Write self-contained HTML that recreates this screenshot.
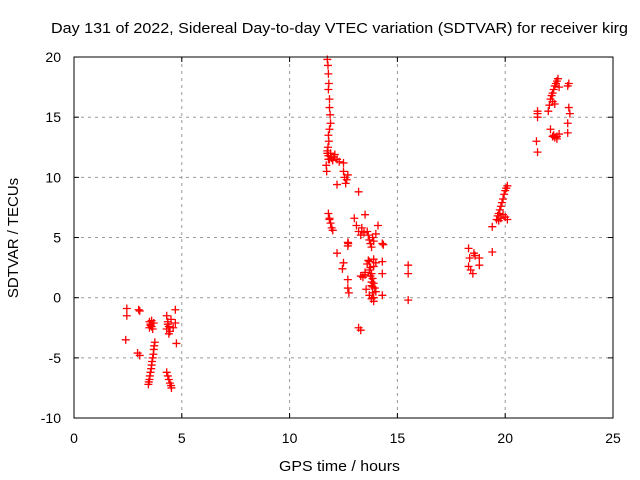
<!DOCTYPE html>
<html><head><meta charset="utf-8"><style>
body{margin:0;background:#fff;}
svg{display:block;font-family:"Liberation Sans",sans-serif;}
</style></head><body>
<svg id="chart" width="640" height="480" xmlns="http://www.w3.org/2000/svg">
<rect width="640" height="480" fill="#fff"/>
<text x="51" y="33" font-size="15" textLength="577" lengthAdjust="spacingAndGlyphs">Day 131 of 2022, Sidereal Day-to-day VTEC variation (SDTVAR) for receiver kirg</text>
<text x="279" y="471" font-size="15" textLength="121" lengthAdjust="spacingAndGlyphs">GPS time / hours</text>
<text transform="translate(18,238) rotate(-90)" font-size="15" text-anchor="middle">SDTVAR / TECUs</text>
<g id="grid"></g><g id="ticks"></g><g id="points"></g>
<rect x="74" y="57" width="539" height="361" fill="none" stroke="#000" stroke-width="1"/>
</svg>
<script>
const xTicks=[0,5,10,15,20,25];
const yTicks=[-10,-5,0,5,10,15,20];
const times=[2.45,2.45,2.4,3.0,3.05,2.95,3.05,
3.5,3.55,3.6,3.65,3.7,3.5,3.6,3.55,3.75,3.72,3.7,3.68,3.65,3.62,3.6,3.58,3.55,3.52,3.5,3.47,3.45,
4.3,4.35,4.4,4.45,4.3,4.4,4.35,4.5,4.3,4.35,4.4,4.45,4.5,4.52,4.7,4.7,4.75,4.6,
11.75,11.78,11.8,11.82,11.8,11.85,11.85,11.88,11.9,11.85,11.8,11.82,11.78,11.75,11.8,11.7,11.72,11.75,11.8,11.85,11.9,11.95,12.0,12.05,12.1,12.2,12.3,12.5,12.5,12.55,12.6,12.65,12.7,12.2,
11.8,11.85,11.9,11.95,12.0,11.85,12.2,12.5,12.45,12.7,12.7,12.72,12.7,12.7,12.75,13.0,13.1,13.2,13.2,13.2,13.3,13.35,13.5,13.45,13.3,13.4,13.5,
13.6,13.65,13.7,13.75,13.8,13.85,13.9,14.0,13.7,13.75,13.8,13.85,13.9,13.95,14.0,13.7,13.8,13.9,13.6,13.65,13.7,13.75,13.8,13.85,13.9,14.0,13.8,13.85,13.9,14.3,14.3,14.3,14.3,14.35,13.3,13.35,13.5,13.55,13.9,14.1,
15.5,15.5,15.5,
18.3,18.35,18.3,18.4,18.5,18.6,18.55,18.8,18.8,19.4,19.4,
19.6,19.65,19.7,19.75,19.8,19.85,19.9,19.95,20.0,20.05,20.1,19.7,19.8,19.9,20.0,20.1,
21.5,21.5,21.45,21.5,21.5,
22.0,22.05,22.1,22.15,22.2,22.25,22.3,22.35,22.4,22.45,22.5,22.2,22.3,22.25,22.4,22.5,22.1,22.2,22.3,22.4,22.9,22.95,22.9,22.95,23.0,22.9];
const values=[-0.9,-1.5,-3.5,-1.0,-1.1,-4.6,-4.8,
-2.0,-2.2,-2.4,-2.6,-2.1,-2.5,-1.9,-2.3,-3.7,-4.0,-4.3,-4.7,-5.0,-5.3,-5.6,-5.9,-6.2,-6.5,-6.8,-7.0,-7.2,
-1.5,-2.0,-2.4,-2.8,-2.6,-3.0,-2.2,-1.8,-6.2,-6.5,-6.8,-7.1,-7.3,-7.5,-1.0,-2.1,-3.8,-2.5,
19.8,19.3,18.6,17.8,17.3,16.5,15.8,15.2,14.5,14.0,13.5,13.0,12.5,12.0,11.5,11.0,10.5,12.2,11.8,11.5,12.0,11.6,11.4,11.7,11.9,11.5,11.3,11.2,10.5,10.0,9.5,9.8,10.2,9.4,
7.0,6.6,6.2,5.8,5.6,6.5,3.7,2.9,2.4,4.6,4.3,4.5,1.5,0.8,0.4,6.6,6.0,8.8,5.5,-2.5,5.2,5.8,6.9,5.4,1.8,1.7,2.1,
5.5,5.2,4.8,4.5,4.2,5.0,4.7,5.3,3.0,2.5,2.0,1.6,1.2,0.8,0.5,0.2,-0.1,-0.3,2.8,3.1,2.3,1.8,1.3,0.9,2.6,2.9,1.0,0.4,0.0,4.5,3.0,2.0,0.2,4.4,-2.7,5.5,1.9,0.7,3.2,6.0,
2.7,2.0,-0.2,
4.1,3.3,2.6,2.3,2.0,3.5,3.7,3.3,2.7,5.9,3.8,
6.5,6.8,7.0,7.3,7.6,7.9,8.2,8.6,8.9,9.1,9.3,6.4,6.6,6.9,6.7,6.5,
15.5,15.0,13.0,12.1,15.3,
15.5,16.0,16.5,16.8,17.0,17.3,17.6,17.8,18.0,18.2,17.5,16.3,16.1,13.5,13.2,13.6,14.0,13.4,13.3,13.4,13.7,17.8,17.6,15.8,15.3,14.5,14.2];
const xs=v=>74+v*(539/25), ys=v=>297.7-v*(361/30);
const NS='http://www.w3.org/2000/svg';
const g=document.getElementById('grid'),t=document.getElementById('ticks'),p=document.getElementById('points');
function mk(tag,attrs,parent){const e=document.createElementNS(NS,tag);for(const k in attrs)e.setAttribute(k,attrs[k]);parent.appendChild(e);return e;}
xTicks.forEach(v=>{const x=xs(v);
 if(v>0&&v<25){const l=mk('line',{x1:x,x2:x,y1:57,y2:418,stroke:'#999','stroke-dasharray':'3,4'},g);
 
 }
 mk('line',{x1:x,x2:x,y1:418,y2:413,stroke:'#000'},t);mk('line',{x1:x,x2:x,y1:57,y2:62,stroke:'#000'},t);
 const tx=mk('text',{x:x,y:443,'font-size':14,'text-anchor':'middle'},t);tx.textContent=v;
 
 });
yTicks.forEach(v=>{const y=ys(v);
 if(v>-10&&v<20){const l=mk('line',{x1:74,x2:613,y1:y,y2:y,stroke:'#999','stroke-dasharray':'3,4'},g);
 
 }
 mk('line',{x1:74,x2:79,y1:y,y2:y,stroke:'#000'},t);mk('line',{x1:613,x2:608,y1:y,y2:y,stroke:'#000'},t);
 const tx=mk('text',{x:61,y:y+5,'font-size':14,'text-anchor':'end'},t);tx.textContent=v;
 
 });
times.forEach((h,i)=>{const x=xs(h),y=ys(values[i]);
 const e=mk('path',{d:`M${x-4},${y}h8M${x},${y-4}v8`,stroke:'#f00','stroke-width':1.3,fill:'none'},p);
 
 });
</script>
</body></html>
